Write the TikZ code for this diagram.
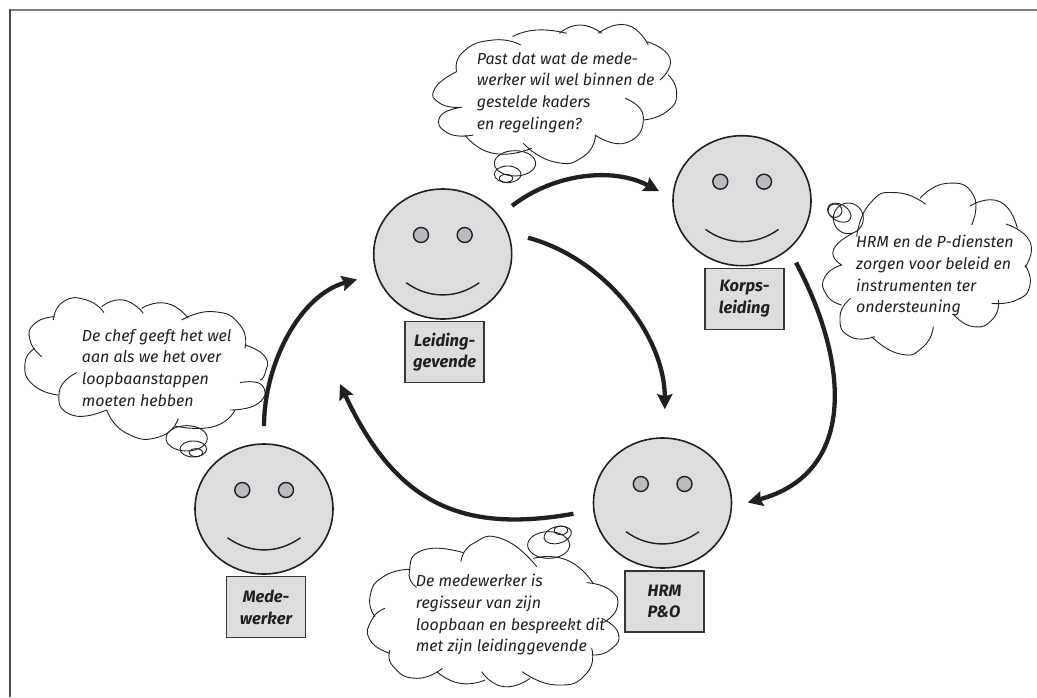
\documentclass[tikz,border=0pt]{standalone}
\usepackage{fontspec}
\setmainfont{Fira Sans}
\usetikzlibrary{positioning, shapes.geometric, arrows.meta, calc}
\definecolor{facegray}{HTML}{DCDDDF}
\definecolor{eyegray}{HTML}{B9BBBE}
\definecolor{inkblack}{HTML}{231F20}
\newcommand{\cloudlobe}[1]{\draw[cloud line] plot[smooth,tension=1] coordinates {#1};}
\newcommand{\smiley}[1]{
  \node[eye dot] (#1-lefteye) at ($(#1)+(-21.7,-19)$) {};
  \node[eye dot] (#1-righteye) at ($(#1)+(22,-19)$) {};
  \draw[inkblack,line width=1.4pt] ($(#1)+(-36.5,28.7)$) .. controls ($(#1)+(-14,45)$) and ($(#1)+(14,45)$) .. ($(#1)+(36.5,28.7)$);
}

\begin{document}
\begin{tikzpicture}[x=1pt,y=-1pt]
\tikzset{
    face/.style={draw=inkblack,fill=facegray,ellipse,line width=1.6pt,inner sep=0pt,minimum width=138pt,minimum height=130pt},
    eye dot/.style={draw=inkblack,fill=eyegray,circle,line width=1.4pt,inner sep=0pt,minimum size=15pt},
    namebox/.style={draw=inkblack!90,fill=facegray,rectangle,line width=1.5pt,inner sep=0pt,minimum width=79pt,minimum height=61pt,align=center,text=inkblack,font=\fontsize{16.5}{21.7}\selectfont\bfseries\itshape},
    thought/.style={inner sep=0pt,align=left,anchor=north west,text=inkblack,font=\fontsize{16}{21.7}\selectfont\itshape},
    cloud line/.style={draw=inkblack,line width=0.9pt},
    flow/.style={color=inkblack,line width=4.3pt,-{Stealth[length=15pt,width=15pt,inset=2pt]}}
}
  \useasboundingbox (0,0) rectangle (1037,697);
  \draw[gray,line width=2pt] (1037,10) -- (10,10);
  \draw[black!70,line width=2pt] (10,9) -- (10,697);

  \node[face] (leiding) at (442.7,254) {};
  \node[face] (korps) at (742,200.7) {};
  \node[face] (hrm) at (662.5,503) {};
  \node[face] (mede) at (264,509) {};
  \smiley{leiding}
  \smiley{korps}
  \smiley{hrm}
  \smiley{mede}

  \node[namebox,below=1pt of leiding,xshift=2pt] (leidingbox) {Leiding-\\gevende};
  \node[namebox,below=1pt of korps,xshift=2.5pt] (korpsbox) {Korps-\\leiding};
  \node[namebox,below=1.5pt of hrm,xshift=2pt,align=left] (hrmbox) {HRM\\P\&O};
  \node[namebox,below=1pt of mede,xshift=2pt] (medebox) {Mede-\\werker};

  \coordinate (leidingfoot) at (340,384);
  \path[flow]
    (leiding.34) edge [out=38,in=152,shorten <=16pt,shorten >=15pt] (korps.178)
    (leiding.18) edge [out=-15,in=90,shorten <=20pt,shorten >=28pt] (hrm.88)
    (korps.-46) edge [out=-62,in=15,looseness=1.25,shorten <=15pt,shorten >=16pt] (hrm.-3)
    (hrm.186) edge [out=190,in=-65,looseness=1.2,shorten <=20pt] (leidingfoot)
    (mede.90) edge [out=90,in=195,shorten <=17pt,shorten >=20pt] (leiding.197);

  % top cloud
  \begin{scope}[xshift=430pt,x=0.3333pt,y=-0.3333pt]
    \cloudlobe{(80,215)(100,155)(190,120)(272,135)}
    \cloudlobe{(248,110)(320,90)(410,100)}
    \cloudlobe{(388,100)(450,75)(515,100)}
    \cloudlobe{(505,100)(590,75)(655,135)}
    \cloudlobe{(652,125)(720,175)(690,240)}
    \cloudlobe{(715,225)(740,280)(710,335)(640,360)}
    \cloudlobe{(585,295)(640,350)(590,428)(495,405)}
    \cloudlobe{(497,405)(460,470)(370,485)(280,430)}
    \cloudlobe{(105,405)(190,460)(305,445)}
    \cloudlobe{(130,405)(55,400)(30,350)(95,322)}
    \cloudlobe{(95,322)(30,310)(15,265)(80,215)}
    \draw[cloud line] (255,490) ellipse [x radius=62,y radius=38];
    \draw[cloud line] (233,523) ellipse [x radius=40,y radius=25];
    \draw[cloud line] (228,535) ellipse [x radius=20,y radius=12];
  \end{scope}
  \node[thought] (toptext) at (476.7,52) {Past dat wat de mede-\\werker wil wel binnen de\\gestelde kaders\\en regelingen?};

  % right cloud
  \begin{scope}[xshift=780pt,yshift=-170pt,x=0.3333pt,y=-0.3333pt]
    \cloudlobe{(185,285)(160,240)(218,190)}
    \cloudlobe{(230,200)(270,100)(350,68)(437,103)}
    \cloudlobe{(420,85)(500,40)(580,75)(575,165)}
    \cloudlobe{(570,108)(660,95)(712,175)}
    \cloudlobe{(678,162)(750,215)(735,292)}
    \cloudlobe{(735,285)(750,345)(710,390)(635,400)}
    \cloudlobe{(655,390)(640,445)(580,470)(520,432)}
    \cloudlobe{(460,470)(430,530)(360,552)(275,500)}
    \cloudlobe{(285,500)(210,500)(180,440)(212,385)}
    \cloudlobe{(185,405)(140,375)(135,320)(185,285)}
    \draw[cloud line] (205,145) ellipse [x radius=45,y radius=46];
    \draw[cloud line] (178,128) ellipse [x radius=38,y radius=25,rotate=-30];
    \draw[cloud line] (165,122) ellipse [x radius=21,y radius=20];
  \end{scope}
  \node[thought] (righttext) at (856,235) {HRM en de P-diensten\\zorgen voor beleid en\\instrumenten ter\\ondersteuning};

  % bottom cloud
  \begin{scope}[xshift=360pt,yshift=-500pt,x=0.3333pt,y=-0.3333pt]
    \cloudlobe{(303,185)(340,130)(430,118)(530,200)}
    \cloudlobe{(520,175)(620,180)(698,248)}
    \cloudlobe{(680,248)(750,270)(772,320)(735,365)}
    \cloudlobe{(725,355)(775,400)(750,450)(695,465)}
    \cloudlobe{(695,445)(680,520)(590,555)(487,515)}
    \cloudlobe{(510,535)(430,560)(365,515)}
    \cloudlobe{(375,540)(300,550)(230,515)}
    \cloudlobe{(247,505)(170,535)(100,500)(90,450)}
    \cloudlobe{(90,460)(30,420)(35,360)(75,325)}
    \cloudlobe{(45,350)(30,290)(70,230)(150,208)}
    \cloudlobe{(170,262)(148,215)(190,150)(310,158)}
    \draw[cloud line] (566,135) ellipse [x radius=63,y radius=40];
    \draw[cloud line] (593,105) ellipse [x radius=42,y radius=25,rotate=15];
    \draw[cloud line] (603,91) ellipse [x radius=20,y radius=13];
  \end{scope}
  \node[thought] (bottomtext) at (415.7,574) {De medewerker is\\regisseur van zijn\\loopbaan en bespreekt dit\\met zijn leidinggevende};

  % left cloud
  \begin{scope}[yshift=-270pt,x=0.3333pt,y=-0.3333pt]
    \cloudlobe{(125,260)(90,210)(105,160)(165,140)}
    \cloudlobe{(160,150)(190,95)(260,90)(312,128)}
    \cloudlobe{(305,110)(370,90)(430,130)}
    \cloudlobe{(425,115)(500,100)(565,145)}
    \cloudlobe{(545,150)(640,125)(720,165)(735,235)}
    \cloudlobe{(735,225)(795,260)(795,310)(780,330)}
    \cloudlobe{(720,338)(785,345)(775,400)(690,420)}
    \cloudlobe{(705,420)(640,470)(525,468)}
    \cloudlobe{(535,445)(480,500)(380,490)(320,420)}
    \cloudlobe{(230,308)(178,365)(215,435)(320,420)}
    \cloudlobe{(175,375)(100,345)(75,280)(105,235)}
    \draw[cloud line] (560,505) ellipse [x radius=62,y radius=38];
    \draw[cloud line] (580,537) ellipse [x radius=40,y radius=24];
    \draw[cloud line] (588,548) ellipse [x radius=20,y radius=12];
  \end{scope}
  \node[thought] (lefttext) at (81.7,329) {De chef geeft het wel\\aan als we het over\\loopbaanstappen\\moeten hebben};
\end{tikzpicture}
\end{document}
